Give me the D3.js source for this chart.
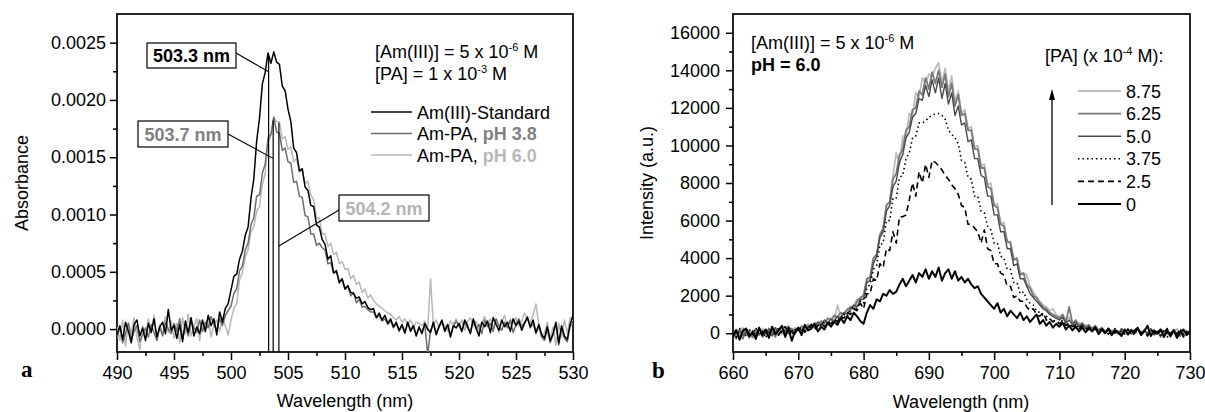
<!DOCTYPE html>
<html><head><meta charset="utf-8">
<script src="https://cdn.jsdelivr.net/npm/d3@7"></script>
<style>
body{margin:0;background:#fff}
svg{display:block}
text{font-family:"Liberation Sans",Arial,sans-serif}
</style>
</head><body>
<svg id="c" width="1205" height="412"></svg>
<script>
// ---------- Panel a: absorption spectra (wavelength grid 490..530, step 0.25 nm) ----------
const absWlStart = 490, absWlStep = 0.25;
const absStandard = [
-.00005,.00003,-.00009,.00006,-.00002,-.00012,.00004,.00008,-.00006,.00001,
-.0001,.00005,-.00003,.00009,-.00007,.00002,.00006,-.00004,.00017,-.00001,
.00003,-.00008,.00004,-.00011,.00007,-.00003,.0001,-.00006,.00002,-.00004,
.00008,-.00002,.00012,.00003,.00009,-.00005,.00015,.00006,.00018,.00022,
.00034,.00046,.00048,.00061,.00068,.00082,.00089,.00114,.00131,.00164,
.00184,.00214,.00224,.00241,.00232,.00242,.00233,.00231,.00212,.00208,
.00192,.00181,.00158,.00154,.00138,.0014,.00124,.00121,.00108,.00107,
.00091,.00089,.00078,.00074,.00061,.00064,.00049,.00051,.00041,.00044,
.00035,.00038,.00032,.00031,.00027,.00028,.00022,.00024,.00019,.00017,
.00018,.0001,.00014,.00008,.00012,.00005,.00009,.00002,.00006,-.00001,
.00004,-.00003,.00006,-.00002,.00003,-.00006,.00002,-.00004,.00005,0,
-.00003,.00006,-.00005,.00002,.00008,-.00002,.00004,-.00007,.00003,.00001,
.00005,-.00002,.00008,.00003,-.00004,.00009,.00001,-.00006,.00006,.00002,
.00007,-.00003,.0001,.00004,-.00001,.00008,.00002,.00006,-.00002,.00009,
.00003,.00007,-.00001,.00005,.0001,.00002,.00008,-.00003,.00004,-.00005,
-.00008,.00002,-.0001,-.00004,.00006,-.00012,.00003,-.00006,-.00009,.00004,.00012];
const absPH38 = [
-.00008,.00002,-.00012,-.00004,.00005,-.00009,-.00002,.00003,-.00011,-.00005,
.00001,-.00007,.00004,-.00003,-.0001,.00002,-.00006,.00006,0,-.00004,
.00005,-.00002,.00009,-.00008,.00003,-.00006,.00007,.00001,-.00003,.00008,
-.00002,.00006,.00001,.00011,.00004,-.00001,.00009,.00003,.00012,.00016,
.0002,.00031,.00035,.00051,.00055,.00069,.00075,.00091,.00097,.00116,
.00117,.00136,.00144,.00167,.0017,.00185,.00172,.00171,.00156,.00158,
.00146,.00145,.00128,.00129,.00116,.00115,.00099,.00098,.00083,.00083,
.00073,.00075,.00071,.00069,.00057,.00058,.00049,.0005,.0004,.00043,
.00035,.00037,.00029,.00032,.00023,.00026,.00019,.0002,.00017,.00015,
.00015,.0001,.00012,.00007,.00009,.00004,.00007,.00001,.00005,-.00002,
.00003,-.00004,.00005,0,.00002,-.00005,.00001,-.00003,.00004,-.00022,
-.00002,.00005,-.00004,.00003,.00006,-.00001,.00004,-.00005,.00002,.00007,
.00003,-.00002,.00006,.00001,-.00003,.00007,0,.00004,-.00004,.00008,
.00002,.00005,-.00002,.00009,.00003,-.00001,.00006,.00001,.00008,-.00003,
.00004,.00009,.00002,.00006,.00011,.00001,.00005,-.00004,.00003,-.00007,
-.0001,0,-.00012,-.00005,.00004,-.00014,.00001,-.00008,-.00011,.00003,.00005];
const absPH60 = [
.00002,-.0001,.00008,-.00015,.00006,-.00004,.0001,-.00007,-.00018,.00003,
-.00006,.00009,-.00002,.00012,-.00009,.00004,-.00005,.00011,-.00003,.00007,
-.00008,.00005,-.00012,.0001,-.00004,.00013,-.00006,.00002,.00009,-.0001,
.00006,-.00003,.00011,-.00007,.00004,.00008,-.00002,.0001,.00003,-.00005,
.00008,.00018,.00022,.00043,.00049,.00063,.00069,.00085,.00089,.00103,
.00107,.00126,.00136,.00163,.00169,.00185,.00181,.00181,.00166,.00168,
.00157,.00159,.00146,.00149,.00137,.00139,.00127,.00129,.00117,.00113,
.00097,.00097,.00083,.00083,.00072,.00075,.00065,.00067,.00057,.00059,
.00052,.00053,.00044,.00047,.00039,.00041,.00032,.00035,.00027,.0003,
.00025,.00022,.0002,.00018,.00016,.00014,.00013,.0001,.00008,.00011,
.00006,.00009,.00004,.00008,.00002,.00006,.00005,.00003,.00007,-.00001,
.00044,.00004,.00008,.00001,.00006,.00003,-.00002,.00007,.00004,.00009,
.00002,.00008,-.00001,.00006,.0001,.00003,.00007,-.00002,.00005,.00011,
.00004,.00009,.00001,.00007,-.00003,.00006,.00012,.00002,.00008,.00005,
.0001,.00003,.00007,.00014,.00008,.00006,.00012,.00022,.00004,-.00006,
-.00003,.00006,-.00009,.00002,-.00014,.00005,-.00007,.00008,-.00004,.0001,.00007];
const peakLabels = ["503.3 nm", "503.7 nm", "504.2 nm"];
const peakWl = [503.3, 503.7, 504.2];
const peakAbs = [0.00238, 0.00182, 0.0018];
const leaderAbs = [0.002246, 0.00149, 0.000725];
const absTicks = [0, 0.0005, 0.001, 0.0015, 0.002, 0.0025];
const absMinorTicks = [0.00025, 0.00075, 0.00125, 0.00175, 0.00225];
const wlTicksA = [490, 495, 500, 505, 510, 515, 520, 525, 530];
const wlMinorA = [492.5, 497.5, 502.5, 507.5, 512.5, 517.5, 522.5, 527.5];
const legendA = ["Am(III)-Standard", "pH 3.8", "pH 6.0"];

// ---------- Panel b: emission spectra (wavelength grid 660..730, step 0.5 nm) ----------
const flWlStart = 660, flWlStep = 0.5;
const pa0 = [
-200,150,-350,100,250,-150,50,-300,300,-100,
200,-250,350,-50,150,400,-200,250,-400,100,
300,-100,450,150,250,500,100,350,200,550,
350,600,450,800,550,900,700,1100,900,650,
500,1100,1500,1300,1800,1700,2100,2000,2300,2100,
2200,2600,2900,2500,2800,3100,2700,3200,3000,3400,
2900,3300,3000,3500,2800,3200,3400,2900,3300,2800,
3000,2700,2900,2600,2400,2500,2100,1900,1700,1500,
1300,1600,1100,1300,900,1200,1000,800,1100,700,
900,600,800,1000,500,700,400,600,300,500,
350,550,200,400,150,350,100,300,50,250,
100,300,-50,200,0,250,-100,150,50,-150,
200,-50,150,0,250,-100,100,400,-150,150,
0,200,-200,100,-50,150,-250,50,200,-100,
100];
const pa25 = [
-100,200,-250,150,300,-50,100,-200,250,0,
150,-150,300,50,-100,200,350,-50,100,250,
150,350,50,300,450,200,400,550,350,600,
500,750,600,900,800,1100,1000,1300,1200,1600,
1300,2100,2100,2900,2800,3700,3500,4500,4400,5400,
4800,6200,6200,6300,7100,8000,7300,8600,8000,9000,
8300,9200,9100,8900,8700,8400,8200,7900,7700,7400,
6800,6700,5800,5800,5600,5400,4800,5500,4500,4400,
3700,3700,3200,3100,2500,2500,1900,2000,1700,1700,
1400,1200,1300,1000,900,1100,700,800,600,700,
500,650,400,550,350,450,250,400,200,300,
150,300,50,250,100,-50,200,0,150,-100,
100,200,-50,150,300,0,100,-150,200,50,
-100,150,0,250,-150,100,-50,200,-200,0,
50];
const pa375 = [
0,-200,250,100,-150,200,-50,300,-100,150,
-250,100,200,-100,350,0,150,300,-50,200,
250,100,400,200,350,500,300,450,600,400,
650,550,800,700,1000,900,1200,1400,1300,1700,
1600,2400,2600,3400,3600,4700,4800,6000,6000,7200,
7200,8300,8400,9300,9600,10400,10500,11200,11200,11300,
11500,11600,11700,11700,11600,11400,10800,10600,10400,10100,
9200,9100,8300,8200,7300,7300,6500,6400,5700,5500,
4800,4800,4100,4000,3400,3400,2700,2700,2100,2200,
1800,1600,1500,1200,1100,950,900,750,700,600,
550,700,400,500,300,450,250,350,150,300,
100,250,-50,200,50,150,-100,250,0,100,
-50,200,100,-100,250,50,150,-150,100,0,
200,-100,150,-200,50,100,-150,200,-50,100,
-100];
const pa50 = [
100,-300,200,-100,50,-250,150,-50,250,-200,
50,200,-150,300,-100,150,0,350,100,-50,
300,150,400,250,500,300,600,450,700,550,
750,650,900,800,1100,1000,1300,1500,1400,1800,
1800,2700,2800,3700,4100,5100,5400,6500,6800,7800,
8100,9100,9500,10400,10700,11500,11700,12500,12400,13200,
12600,13500,12800,13600,12500,13300,12200,12800,11600,12100,
11100,11200,10200,10300,9300,9300,8400,8300,7300,7300,
6300,6300,5400,5400,4500,4500,3600,3700,2900,2900,
2500,2100,1900,1700,1500,1300,1200,1000,900,800,
700,850,550,700,450,600,350,500,250,400,
200,350,100,250,0,200,50,150,-50,250,
100,-100,200,50,300,-50,150,0,250,-100,
100,-200,150,0,-150,200,-50,100,-200,50,
100];
const pa625 = [
-150,200,0,-300,150,50,-200,250,-100,100,
-50,250,100,-200,200,300,-100,150,250,0,
200,350,100,400,300,550,400,650,500,800,
700,950,850,1100,1000,1250,1400,1300,1700,1900,
2000,2900,3000,4000,4200,5200,5600,6800,7000,8200,
8500,9500,9800,10800,11000,11900,12000,12900,12700,13600,
13000,13900,13300,14000,13100,13800,12600,13300,12100,12700,
11600,11700,10800,10800,9800,9800,8800,8800,7800,7700,
6800,6700,5800,5700,4900,4800,3900,4000,3100,3200,
2600,2400,2000,1900,1600,1400,1300,1100,1000,900,
800,1000,600,1400,500,700,400,550,300,450,
250,400,150,300,50,250,100,200,0,150,
50,250,-50,150,300,0,200,-100,150,50,
-50,200,0,150,-200,100,0,-150,150,-50,
50];
const pa875 = [
50,-200,150,300,-100,200,-250,100,0,250,
100,-150,300,50,200,-50,250,400,100,300,
150,400,250,500,350,300,600,450,700,550,
800,650,1500,900,1100,1300,1200,1500,1800,1700,
2100,2800,2900,3900,4000,5300,5500,6800,7000,8400,
9600,9000,10500,10500,11700,11600,12800,12600,13600,13300,
13800,13700,14100,14400,13300,14100,12900,13700,12300,12900,
11700,11900,10900,11000,9900,10000,8900,9000,7900,8000,
6800,6900,5800,5900,4800,4900,4000,3900,3200,3200,
3100,2500,2200,1900,1700,1500,1400,1200,1300,1000,
900,800,700,850,600,500,550,400,450,300,
250,400,200,300,100,250,50,200,100,0,
150,-50,200,100,250,0,150,-100,200,50,
0,150,-100,200,-50,100,250,-100,50,150,
0];
const paLabels = ["8.75", "6.25", "5.0", "3.75", "2.5", "0"];
const intTicks = [0, 2000, 4000, 6000, 8000, 10000, 12000, 14000, 16000];
const intMinorTicks = [1000, 3000, 5000, 7000, 9000, 11000, 13000, 15000];
const wlTicksB = [660, 670, 680, 690, 700, 710, 720, 730];
const wlMinorB = [665, 675, 685, 695, 705, 715, 725];

// ---------- drawing ----------
const svg = d3.select("#c");
const FS = 18;

const xA = d3.scaleLinear().domain([490, 530]).range([117, 573]);
const yA = d3.scaleLinear().domain([-0.0002, 0.00275]).range([352, 14]);
const xB = d3.scaleLinear().domain([660, 730]).range([733, 1190]);
const yB = d3.scaleLinear().domain([-1000, 17000]).range([352, 14]);

const defs = svg.append("defs");
defs.append("clipPath").attr("id", "clipA").append("rect")
  .attr("x", 117).attr("y", 14).attr("width", 456).attr("height", 338);
defs.append("clipPath").attr("id", "clipB").append("rect")
  .attr("x", 733).attr("y", 14).attr("width", 457).attr("height", 338);

function axes(x, y, xt, xm, yt, ym, yfmt, ypad) {
  const b = y.range()[0], t = y.range()[1], l = x.range()[0], r = x.range()[1];
  const gx = svg.append("g").attr("transform", `translate(0,${b})`)
    .call(d3.axisBottom(x).tickValues(xt).tickSize(8).tickPadding(6).tickSizeOuter(0).tickFormat(d3.format("d")));
  svg.append("g").attr("transform", `translate(0,${b})`)
    .call(d3.axisBottom(x).tickValues(xm).tickSize(4).tickSizeOuter(0).tickFormat(""));
  const gy = svg.append("g").attr("transform", `translate(${l},0)`)
    .call(d3.axisLeft(y).tickValues(yt).tickSize(7).tickPadding(ypad).tickSizeOuter(0).tickFormat(yfmt));
  svg.append("g").attr("transform", `translate(${l},0)`)
    .call(d3.axisLeft(y).tickValues(ym).tickSize(4).tickSizeOuter(0).tickFormat(""));
  svg.selectAll(".domain").remove();
  svg.selectAll(".tick line").attr("stroke", "#000").attr("stroke-width", 1.5);
  [gx, gy].forEach(g => g.selectAll("text").attr("font-size", FS)
    .attr("font-family", "Liberation Sans, Arial, sans-serif").attr("fill", "#000"));
  svg.append("rect").attr("x", l).attr("y", t).attr("width", r - l).attr("height", b - t)
    .attr("fill", "none").attr("stroke", "#000").attr("stroke-width", 1.7);
}

// ----- Panel a -----
axes(xA, yA, wlTicksA, wlMinorA, absTicks, absMinorTicks, d3.format(".4f"), 4);

const lineA = arr => d3.line()
  .x((d, i) => xA(absWlStart + i * absWlStep)).y(d => yA(d))(arr);
const gA = svg.append("g").attr("clip-path", "url(#clipA)");
[[absPH60, "#b8b8b8"], [absPH38, "#6e6e6e"], [absStandard, "#000"]].forEach(([arr, c]) => {
  gA.append("path").attr("d", lineA(arr)).attr("fill", "none")
    .attr("stroke", c).attr("stroke-width", 1.5).attr("stroke-linejoin", "round");
});

// vertical peak markers
peakWl.forEach((w, i) => {
  svg.append("line").attr("x1", xA(w)).attr("x2", xA(w))
    .attr("y1", yA(-0.0002)).attr("y2", yA(peakAbs[i]))
    .attr("stroke", "#000").attr("stroke-width", 1.2);
});

// peak label boxes
const boxes = [
  {x: 147, y: 43, w: 89, h: 25, color: "#000", ax: 236, ay: 53},
  {x: 138, y: 121, w: 90, h: 26, color: "#808080", ax: 228, ay: 134},
  {x: 339, y: 195, w: 90, h: 26, color: "#b4b4b4", ax: 339, ay: 210}
];
boxes.forEach((b, i) => {
  svg.append("line").attr("x1", b.ax).attr("y1", b.ay)
    .attr("x2", xA(peakWl[i])).attr("y2", yA(leaderAbs[i]))
    .attr("stroke", "#000").attr("stroke-width", 1.1);
  svg.append("rect").attr("x", b.x).attr("y", b.y).attr("width", b.w).attr("height", b.h)
    .attr("fill", "#fff").attr("stroke", "#000").attr("stroke-width", 1.2);
  svg.append("text").attr("x", b.x + b.w / 2).attr("y", b.y + b.h - 6)
    .attr("text-anchor", "middle").attr("font-size", FS).attr("font-weight", "bold")
    .attr("fill", b.color).text(peakLabels[i]);
});

function supText(x, y, parts, opts = {}) {
  const t = svg.append("text").attr("x", x).attr("y", y).attr("font-size", FS)
    .attr("fill", "#000");
  if (opts.anchor) t.attr("text-anchor", opts.anchor);
  parts.forEach(p => {
    const s = t.append("tspan").text(p.t);
    if (p.sup) s.attr("font-size", 11).attr("dy", -7);
    if (p.after) s.attr("dy", 7);
    if (p.bold) s.attr("font-weight", "bold");
    if (p.fill) s.attr("fill", p.fill);
  });
  return t;
}
supText(375, 58, [{t: "[Am(III)] = 5 x 10"}, {t: "-6", sup: true}, {t: " M", after: true}]);
supText(375, 80, [{t: "[PA] = 1 x 10"}, {t: "-3", sup: true}, {t: " M", after: true}]);

const legA = [
  {c: "#000", parts: [{t: legendA[0]}]},
  {c: "#6e6e6e", parts: [{t: "Am-PA, "}, {t: legendA[1], bold: true, fill: "#808080"}]},
  {c: "#b8b8b8", parts: [{t: "Am-PA, "}, {t: legendA[2], bold: true, fill: "#b8b8b8"}]}
];
legA.forEach((l, i) => {
  const yy = 112 + i * 21.5;
  svg.append("line").attr("x1", 371).attr("x2", 412).attr("y1", yy).attr("y2", yy)
    .attr("stroke", l.c).attr("stroke-width", 1.6);
  supText(417, yy + 6.5, l.parts);
});

svg.append("text").attr("x", 345).attr("y", 407).attr("text-anchor", "middle")
  .attr("font-size", FS).text("Wavelength (nm)");
svg.append("text").attr("transform", "translate(28,183) rotate(-90)")
  .attr("text-anchor", "middle").attr("font-size", FS).text("Absorbance");
svg.append("text").attr("x", 21).attr("y", 377).attr("font-size", 23)
  .attr("font-weight", "bold").style("font-family", "Liberation Serif, Times New Roman, serif").text("a");

// ----- Panel b -----
axes(xB, yB, wlTicksB, wlMinorB, intTicks, intMinorTicks, d3.format("d"), 6);

const lineB = arr => d3.line()
  .x((d, i) => xB(flWlStart + i * flWlStep)).y(d => yB(d))(arr);
const seriesB = [
  {arr: pa875, c: "#bdbdbd", w: 1.8, dash: null},
  {arr: pa625, c: "#7a7a7a", w: 1.8, dash: null},
  {arr: pa50, c: "#4a4a4a", w: 1.4, dash: null},
  {arr: pa375, c: "#000", w: 1.6, dash: "1.5,3"},
  {arr: pa25, c: "#000", w: 1.6, dash: "6,4"},
  {arr: pa0, c: "#000", w: 2, dash: null}
];
const gB = svg.append("g").attr("clip-path", "url(#clipB)");
seriesB.forEach(s => {
  const p = gB.append("path").attr("d", lineB(s.arr)).attr("fill", "none")
    .attr("stroke", s.c).attr("stroke-width", s.w).attr("stroke-linejoin", "round");
  if (s.dash) p.attr("stroke-dasharray", s.dash);
});

supText(751, 49, [{t: "[Am(III)] = 5 x 10"}, {t: "-6", sup: true}, {t: " M", after: true}]);
svg.append("text").attr("x", 751).attr("y", 71).attr("font-size", FS)
  .attr("font-weight", "bold").text("pH = 6.0");

supText(1045, 62, [{t: "[PA] (x 10"}, {t: "-4", sup: true}, {t: " M):", after: true}]);
seriesB.forEach((s, i) => {
  const yy = 91 + i * 22.6;
  const l = svg.append("line").attr("x1", 1078).attr("x2", 1121).attr("y1", yy).attr("y2", yy)
    .attr("stroke", s.c).attr("stroke-width", s.w);
  if (s.dash) l.attr("stroke-dasharray", s.dash);
  svg.append("text").attr("x", 1126).attr("y", yy + 6.5).attr("font-size", FS).text(paLabels[i]);
});
// arrow
svg.append("line").attr("x1", 1052).attr("x2", 1052).attr("y1", 205).attr("y2", 98)
  .attr("stroke", "#000").attr("stroke-width", 1.3);
svg.append("path").attr("d", "M1052,89 L1049,100 L1055,100 Z").attr("fill", "#000");

svg.append("text").attr("x", 961).attr("y", 408).attr("text-anchor", "middle")
  .attr("font-size", FS).text("Wavelength (nm)");
svg.append("text").attr("transform", "translate(653,183) rotate(-90)")
  .attr("text-anchor", "middle").attr("font-size", FS).text("Intensity (a.u.)");
svg.append("text").attr("x", 652).attr("y", 378).attr("font-size", 23)
  .attr("font-weight", "bold").style("font-family", "Liberation Serif, Times New Roman, serif").text("b");
</script>
</body></html>
